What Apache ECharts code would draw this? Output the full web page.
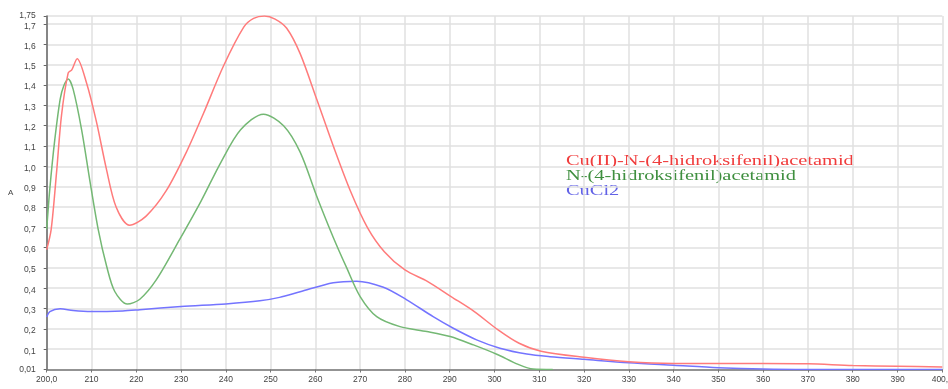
<!DOCTYPE html>
<html>
<head>
<meta charset="utf-8">
<script src="https://cdn.jsdelivr.net/npm/echarts@6/dist/echarts.min.js"></script>
<style>
  html, body { margin: 0; padding: 0; background: #fff; }
  #main { width: 948px; height: 389px; }
</style>
</head>
<body>
<div id="main"></div>
<script>
// series names (legend text)
var seriesNames = ['Cu(II)-N-(4-hidroksifenil)acetamid', 'N-(4-hidroksifenil)acetamid', 'CuCl2'];

// y tick labels
var yTickValues = [0.01, 0.1, 0.2, 0.3, 0.4, 0.5, 0.6, 0.7, 0.8, 0.9, 1.0, 1.1, 1.2, 1.3, 1.4, 1.5, 1.6, 1.7, 1.75];

// absorbance readings [nm, A]
var cuComplex = [
  [200, 0.60], [201.0, 0.70], [202.2, 0.98], [203.3, 1.26], [204.8, 1.47], [205.6, 1.485],
  [206.8, 1.54], [208.9, 1.42], [211.1, 1.23], [213.3, 1.00], [215.5, 0.81], [218.5, 0.72],
  [222.2, 0.765], [226.7, 0.89], [231.2, 1.08], [235, 1.27], [239.5, 1.505], [244, 1.695],
  [246.2, 1.738], [248.6, 1.75], [251, 1.735], [253.6, 1.69], [256.6, 1.565], [260.3, 1.34],
  [264, 1.11], [267.8, 0.89], [271.6, 0.71], [275.4, 0.59], [280, 0.50], [285.1, 0.443],
  [290.3, 0.369], [295.5, 0.295], [300.8, 0.205], [305.5, 0.139], [310.4, 0.10], [320, 0.07],
  [330, 0.048], [340, 0.04], [350, 0.04], [360, 0.04], [370, 0.038], [380, 0.03], [390, 0.026],
  [400, 0.022]
];
var ligand = [
  [200, 0.70], [200.7, 0.90], [201.8, 1.14], [203, 1.34], [203.8, 1.405], [204.8, 1.44],
  [205.9, 1.39], [207.8, 1.19], [209.6, 0.945], [211.5, 0.70], [213.4, 0.517], [215.2, 0.394],
  [218, 0.332], [220.8, 0.356], [224.5, 0.452], [229.7, 0.65], [234.5, 0.84], [238.9, 1.03],
  [243.3, 1.19], [248.4, 1.267], [252.9, 1.21], [256.6, 1.08], [260.3, 0.863], [264, 0.66],
  [267, 0.51], [270, 0.369], [273.7, 0.27], [278.9, 0.221], [284.9, 0.197], [290.1, 0.172],
  [295.3, 0.131], [300.5, 0.085], [305.3, 0.035], [308.6, 0.012], [313, 0.01]
];
var cuCl2 = [
  [200, 0.268], [200.7, 0.295], [203, 0.309], [205.9, 0.30], [210, 0.295], [217, 0.298],
  [220.8, 0.304], [230, 0.32], [240, 0.333], [247.6, 0.348], [252, 0.365], [256.6, 0.393],
  [264, 0.437], [269.2, 0.445], [275.2, 0.415], [280.4, 0.353], [286.3, 0.27], [290.8, 0.213],
  [296, 0.156], [301.2, 0.115], [307.2, 0.086], [312.4, 0.073], [320, 0.06], [330, 0.043],
  [340, 0.031], [350, 0.019], [360, 0.012], [370, 0.01], [380, 0.01], [390, 0.01], [400, 0.01]
];

var lineColors = ['#ff7b7b', '#74b874', '#7474ff'];
var textColors = ['#f03c3c', '#3f8f3f', '#6262e6'];

var chart = echarts.init(document.getElementById('main'));

function comma(v, d) { return v.toFixed(d).replace('.', ','); }

var legendTexts = seriesNames.map(function (name, i) {
  return {
    type: 'text',
    x: 566,
    y: 154 + i * 15,
    scaleX: 1.36,
    style: { text: name, fill: textColors[i], font: '15px "Liberation Serif"' }
  };
});

chart.setOption({
  backgroundColor: '#fff',
  animation: false,
  grid: { left: 46.7, right: 5.7, top: 16, bottom: 19.5, outerBoundsMode: 'none' },
  xAxis: {
    type: 'value', min: 200, max: 400, interval: 10,
    name: 'nm', nameLocation: 'middle', nameGap: 17,
    nameTextStyle: { fontSize: 8, color: '#444', fontFamily: 'Liberation Sans' },
    axisLine: { lineStyle: { color: '#777', width: 1.5 } },
    axisTick: { show: true, length: 3, lineStyle: { color: '#777' } },
    axisLabel: {
      fontSize: 8.5, color: '#444', fontFamily: 'Liberation Sans', margin: 6,
      formatter: function (v) { return (v === 200 || v === 400) ? comma(v, 1) : String(v); }
    },
    splitLine: { show: true, lineStyle: { color: '#e0e0e0', width: 1.5 } }
  },
  yAxis: {
    type: 'value', min: 0.01, max: 1.75, interval: 0.1,
    name: 'A', nameLocation: 'middle', nameGap: 32, nameRotate: 0,
    nameTextStyle: { fontSize: 8, color: '#444', fontFamily: 'Liberation Sans' },
    axisLine: { show: true, lineStyle: { color: '#666', width: 1.5 } },
    axisTick: { show: true, length: 3, lineStyle: { color: '#666' } },
    axisLabel: {
      fontSize: 8.5, lineHeight: 6, color: '#444', fontFamily: 'Liberation Sans', margin: 11,
      customValues: yTickValues, hideOverlap: false,
      formatter: function (v) {
        if (Math.abs(v - 0.01) < 1e-6) return '0,01';
        if (Math.abs(v - 1.75) < 1e-6) return '1,75';
        return comma(v, 1);
      }
    },
    splitLine: { show: true, lineStyle: { color: '#e0e0e0', width: 1.5 } }
  },
  graphic: legendTexts,
  series: [cuComplex, ligand, cuCl2].map(function (d, i) {
    return {
      name: seriesNames[i], type: 'line', data: d, smooth: 0.3,
      showSymbol: false, lineStyle: { color: lineColors[i], width: 1.5 },
      itemStyle: { color: lineColors[i] }, z: 3 - i
    };
  })
});
</script>
</body>
</html>
